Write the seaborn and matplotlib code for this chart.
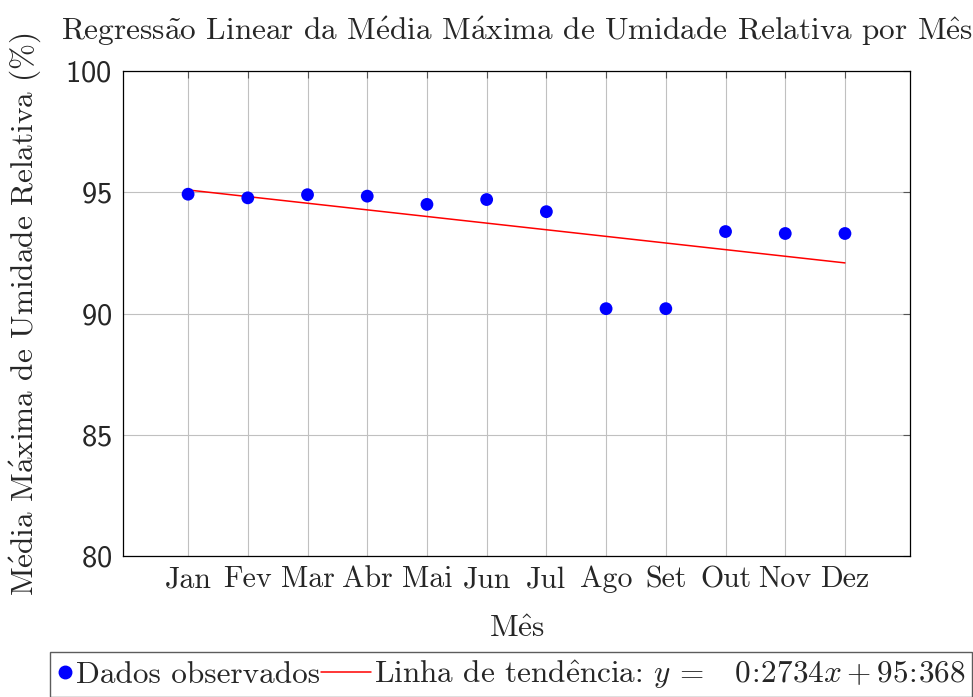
import numpy as np
import pandas as pd
import matplotlib
matplotlib.use('Agg')
import matplotlib.pyplot as plt
import seaborn as sns
from matplotlib.lines import Line2D
from matplotlib.legend_handler import HandlerLine2D

# dados
meses = ['Jan', 'Fev', 'Mar', 'Abr', 'Mai', 'Jun', 'Jul', 'Ago', 'Set', 'Out', 'Nov', 'Dez']
mes_num = [1, 2, 3, 4, 5, 6, 7, 8, 9, 10, 11, 12]
umidade_max = [94.92, 94.77, 94.9, 94.84, 94.5, 94.7, 94.2, 90.2, 90.2, 93.38, 93.3, 93.3]
inclinacao = -0.2734
intercepto = 95.368
y_ticks = [80, 85, 90, 95, 100]

sns.set_style('white')
plt.rcParams['font.family'] = 'cmr10'
plt.rcParams['mathtext.fontset'] = 'cm'
plt.rcParams['axes.formatter.use_mathtext'] = True

FS = 22.5

# cmr10 nao tem letras acentuadas -> acentos via mathtext
ACC = {'ã': r'$\tilde{\mathrm{a}}$', 'é': r'$\acute{\mathrm{e}}$',
       'á': r'$\acute{\mathrm{a}}$', 'ê': r'$\hat{\mathrm{e}}$'}


def tex(s):
    return ''.join(ACC.get(c, c) for c in s)


class LinhaLonga(HandlerLine2D):
    # handle da linha mais comprido que o do marcador
    def get_xdata(self, legend, xdescent, ydescent, width, height, fontsize):
        x = [-xdescent - 1.05 * fontsize, -xdescent + width]
        return x, [np.mean(x)]


df = pd.DataFrame({'mes': mes_num, 'umid': umidade_max})
tendencia = [intercepto + inclinacao * m for m in mes_num]

fig, ax = plt.subplots(figsize=(9.73, 6.97), dpi=100)
fig.subplots_adjust(left=0.1264, right=0.9353, bottom=0.2023, top=0.8981)

sns.lineplot(x=mes_num, y=tendencia, color='red', lw=1.1, ax=ax, zorder=2)
sns.scatterplot(data=df, x='mes', y='umid', color='blue', s=85, edgecolor='none', ax=ax, zorder=3)

ax.set_xlim(-0.09, 13.09)
ax.set_ylim(80, 100)
ax.set_xticks(mes_num, meses)
ax.set_yticks(y_ticks)
ax.grid(True, color='#c0c0c0', lw=0.8)
ax.set_axisbelow(True)
for sp in ax.spines.values():
    sp.set_visible(True)
    sp.set_color('black')
    sp.set_linewidth(0.9)
ax.tick_params(direction='in', length=5, width=0.8, color='#555555', top=True, right=True,
               labelsize=21.5, pad=8)
ax.tick_params(axis='x', pad=7)
for t in ax.get_yticklabels():
    t.set_fontfamily('cmss10')
    t.set_fontsize(22)

ax.set_title(tex('Regressão Linear da Média Máxima de Umidade Relativa por Mês'), fontsize=FS, pad=22)
ax.set_xlabel(tex('Mês'), fontsize=FS, labelpad=16)
ax.set_ylabel(tex('Média Máxima de Umidade Relativa (%)'), fontsize=FS)
ax.yaxis.set_label_coords(-0.101, 0.5)

h_dados = Line2D([], [], marker='o', color='blue', ls='none', markersize=9)
h_linha = Line2D([], [], color='red', lw=1.1)
rotulo_linha = (tex('Linha de tendência: ') +
                r'$y$ =   $\mathsf{0}\!:\!\mathsf{2734}x + \mathsf{95}\!:\!\mathsf{368}$')
leg = fig.legend([h_dados, h_linha], ['Dados observados', rotulo_linha],
                 handler_map={h_linha: LinhaLonga()},
                 loc='upper left', bbox_to_anchor=(50 / 973, 1 - 652 / 697), borderaxespad=0,
                 ncol=2, fontsize=FS, handlelength=0.55, handletextpad=0.08, columnspacing=1.08,
                 borderpad=0.2, fancybox=False, frameon=True)
leg.get_frame().set_edgecolor('#333333')
leg.get_frame().set_linewidth(1.0)

fig.savefig('out.png', dpi=100)
